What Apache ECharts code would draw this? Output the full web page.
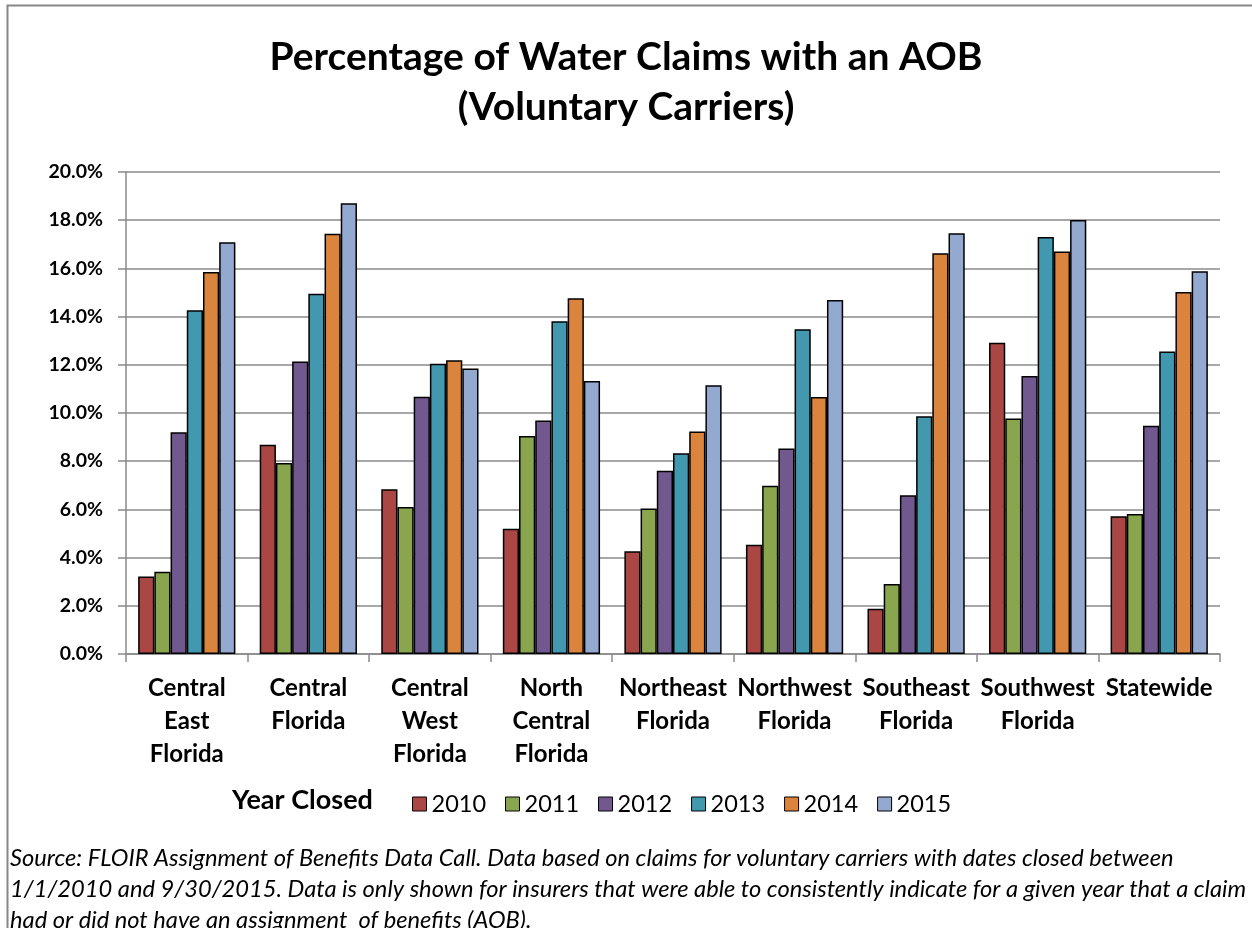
<!DOCTYPE html>
<html>
<head>
<meta charset="utf-8">
<title>Percentage of Water Claims with an AOB</title>
<script src="https://cdn.jsdelivr.net/npm/echarts@6/dist/echarts.min.js"></script>
<style>
  html, body { margin: 0; padding: 0; background: #ffffff; }
  #chart { width: 1252px; height: 928px; }
</style>
</head>
<body>
<div id="chart"></div>
<script>
// Regions (x-axis categories)
const regions = [
  'Central\nEast\nFlorida',
  'Central\nFlorida',
  'Central\nWest\nFlorida',
  'North\nCentral\nFlorida',
  'Northeast\nFlorida',
  'Northwest\nFlorida',
  'Southeast\nFlorida',
  'Southwest\nFlorida',
  'Statewide'
];

// Year closed (series names)
const years = ['2010', '2011', '2012', '2013', '2014', '2015'];

// Percentage of water claims with an AOB, per region, by year closed
const pct2010 = [3.22, 8.68, 6.84, 5.20, 4.26, 4.53, 1.88, 12.91, 5.72];
const pct2011 = [3.41, 7.93, 6.10, 9.05, 6.04, 6.98, 2.90, 9.77, 5.81];
const pct2012 = [9.20, 12.14, 10.67, 9.69, 7.60, 8.53, 6.59, 11.54, 9.47];
const pct2013 = [14.26, 14.95, 12.04, 13.81, 8.33, 13.48, 9.87, 17.30, 12.55];
const pct2014 = [15.85, 17.44, 12.19, 14.76, 9.23, 10.66, 16.63, 16.70, 15.02];
const pct2015 = [17.08, 18.70, 11.85, 11.33, 11.15, 14.69, 17.46, 18.01, 15.88];

// Value axis ticks (percent)
const yMin = 0;
const yMax = 20;
const yStep = 2;

const seriesValues = [pct2010, pct2011, pct2012, pct2013, pct2014, pct2015];
const palette = ['#AA4643', '#89A54E', '#71588F', '#4198AF', '#DB843D', '#93A9CF'];

const sourceLines = [
  'Source: FLOIR Assignment of Benefits Data Call. Data based on claims for voluntary carriers with dates closed between',
  '1/1/2010 and 9/30/2015. Data is only shown for insurers that were able to consistently indicate for a given year that a claim',
  'had or did not have an assignment  of benefits (AOB).'
];

const FONT = 'Lato, "Open Sans", "DejaVu Sans", sans-serif';
const gridGray = '#8a8a8a';

const chart = echarts.init(document.getElementById('chart'), null, { renderer: 'canvas' });

const option = {
  backgroundColor: '#ffffff',
  animation: false,
  color: palette,
  textStyle: { fontFamily: FONT, color: '#000' },
  title: {
    text: 'Percentage of Water Claims with an AOB\n(Voluntary Carriers)',
    left: 'center',
    top: 27,
    textStyle: {
      fontFamily: FONT,
      fontWeight: 'bold',
      fontSize: 39,
      lineHeight: 50,
      color: '#000'
    }
  },
  grid: {
    left: 126,
    right: 32,
    top: 172,
    bottom: 274,
    containLabel: false
  },
  legend: {
    data: years,
    left: 407,
    top: 787,
    itemWidth: 14,
    itemHeight: 14,
    itemGap: 19,
    icon: 'rect',
    itemStyle: { borderColor: '#000', borderWidth: 1 },
    textStyle: { fontFamily: FONT, fontSize: 23.5, color: '#000', padding: [0, 0, 0, 0] }
  },
  xAxis: {
    type: 'category',
    data: regions,
    axisLine: { lineStyle: { color: gridGray, width: 1.5 } },
    axisTick: { show: true, length: 8, lineStyle: { color: gridGray, width: 1.5 } },
    axisLabel: {
      interval: 0,
      margin: 18,
      fontFamily: FONT,
      fontWeight: 'bold',
      fontSize: 24,
      lineHeight: 33,
      color: '#000'
    }
  },
  yAxis: {
    type: 'value',
    min: yMin,
    max: yMax,
    interval: yStep,
    axisLine: { show: true, lineStyle: { color: gridGray, width: 1.5 } },
    axisTick: { show: true, length: 8, lineStyle: { color: gridGray, width: 1.5 } },
    splitLine: { lineStyle: { color: gridGray, width: 1.5 } },
    axisLabel: {
      margin: 23,
      fontFamily: FONT,
      fontWeight: 'bold',
      fontSize: 19.5,
      color: '#000',
      formatter: v => v.toFixed(1) + '%'
    }
  },
  series: years.map((y, i) => ({
    name: y,
    type: 'bar',
    data: seriesValues[i],
    barGap: '0%',
    barCategoryGap: '20%',
    itemStyle: { color: palette[i], borderColor: '#000', borderWidth: 1.5 }
  })),
  graphic: [
    {
      type: 'rect',
      silent: true,
      shape: { x: 7.5, y: 5.5, width: 1300, height: 1000 },
      style: { fill: 'none', stroke: '#878787', lineWidth: 2 }
    },
    {
      type: 'text',
      left: 232,
      top: 787,
      style: {
        text: 'Year Closed',
        font: 'bold 27px ' + FONT,
        fill: '#000'
      }
    },
    {
      type: 'text',
      left: 10,
      top: 843,
      style: {
        text: sourceLines.join('\n'),
        font: 'italic 23.7px ' + FONT,
        lineHeight: 31,
        fill: '#000'
      }
    }
  ]
};

chart.setOption(option);
</script>
</body>
</html>
